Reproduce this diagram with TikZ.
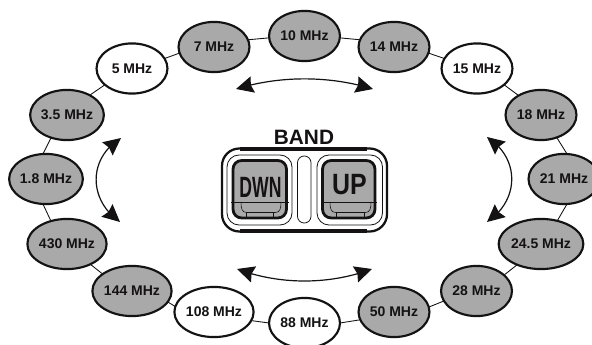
\documentclass[tikz,border=0pt]{standalone}
\usepackage{fontspec}
\setmainfont{Liberation Sans}
\usetikzlibrary{shapes.geometric,arrows.meta,bending}
\definecolor{keygray}{HTML}{A9A9A9}
\definecolor{ink}{HTML}{141212}
\tikzset{
  x=0.75pt,y=-0.75pt,
  bandbase/.style={ellipse,draw=ink,line width=1.6pt,minimum width=53.2pt,minimum height=37.6pt,
    inner sep=0pt,outer sep=0pt,text=ink,font=\bfseries\fontsize{10.5pt}{12pt}\selectfont},
  bandon/.style={bandbase,fill=keygray},
  bandoff/.style={bandbase,fill=white},
  link/.style={draw=ink,line width=0.65pt},
  swing/.style={draw=ink,line width=0.9pt,
    {Stealth[length=13pt,width=12.5pt,inset=1.5pt]}-{Stealth[length=13pt,width=12.5pt,inset=1.5pt]}},
  keyface/.style={draw=ink,fill=keygray,line width=2.1pt,rounded corners=6.5pt},
  thinring/.style={draw=ink,line width=0.6pt,rounded corners=9pt},
  keydetail/.style={draw=ink,line width=0.45pt},
}
\begin{document}
\begin{tikzpicture}
\useasboundingbox (0,0) rectangle (592,345);
\clip (0,0) rectangle (592,345);
% band nodes
\node[bandon]  (m10)  at (304.5,36)  {10 MHz};
\node[bandon]  (m14)  at (394,47)    {14 MHz};
\node[bandoff] (m15)  at (477,68.5)  {15 MHz};
\node[bandon]  (m18)  at (541,115)   {18 MHz};
\node[bandon]  (m21)  at (564,179)   {21 MHz};
\node[bandon]  (m245) at (541,244)   {24.5 MHz};
\node[bandon]  (m28)  at (476.5,291) {28 MHz};
\node[bandon]  (m50)  at (394,312)   {50 MHz};
\node[bandoff] (m88)  at (304.5,323) {88 MHz};
\node[bandoff] (m108) at (214,312)   {108 MHz};
\node[bandon]  (m144) at (132,291)   {144 MHz};
\node[bandon]  (m430) at (67,244)    {430 MHz};
\node[bandon]  (m18l) at (46,179)    {1.8 MHz};
\node[bandon]  (m35)  at (67,115)    {3.5 MHz};
\node[bandoff] (m5)   at (132,68.5)  {5 MHz};
\node[bandon]  (m7)   at (214,47)    {7 MHz};
% connectors
\draw[link] (m7.12) -- (m10.183);
\draw[link] (m5.17) -- (m7.190);
\draw[link] (m35.41) -- (m5.211);
\draw[link] (m18l.97) -- (m35.235);
\draw[link] (m18l.263) -- (m430.125);
\draw[link] (m430.-41) -- (m144.150);
\draw[link] (m144.-17) -- (m108.172);
\draw[link] (m108.-13) -- (m88.180);
\draw[link] (m88.0) -- (m50.193);
\draw[link] (m50.8) -- (m28.197);
\draw[link] (m28.30) -- (m245.221);
\draw[link] (m245.55) -- (m21.277);
\draw[link] (m21.83) -- (m18.305);
\draw[link] (m18.139) -- (m15.329);
\draw[link] (m15.163) -- (m14.350);
\draw[link] (m14.168) -- (m10.357);
% arrows
\coordinate (topL) at (236,89);   \coordinate (topR) at (373,89);
\coordinate (botL) at (237,269);  \coordinate (botR) at (372,269);
\coordinate (lefT) at (121,138);  \coordinate (lefB) at (120,222);
\coordinate (rigT) at (487,137);  \coordinate (rigB) at (487,222);
\draw[swing] (topL) .. controls (280,75.5) and (329,75.5) .. (topR);
\draw[swing] (botL) .. controls (280,285) and (329,285) .. (botR);
\draw[swing] (lefT) .. controls (88,158) and (88,200) .. (lefB);
\draw[swing] (rigT) .. controls (520,158) and (520,200) .. (rigB);
% band button
\node[font=\bfseries\fontsize{15.6pt}{18pt}\selectfont,text=ink,inner sep=0pt] (bandlabel) at (304,137) {BAND};
\draw[draw=ink,line width=1.7pt,rounded corners=13pt] (222,148.5) rectangle (387,231.5);
\draw[draw=ink,line width=2.8pt] (240,148.8) -- (367,148.8);
\draw[draw=ink,line width=2.8pt] (240,231.2) -- (367,231.2);
\draw[thinring] (227,155) rectangle (292,225);
\draw[thinring] (317,155) rectangle (382.5,225);
\draw[draw=ink,line width=0.6pt,rounded corners=5pt] (297.5,156) rectangle (311,223);
% DWN key
\draw[keyface] (233,160.5) rectangle (286.5,218);
\draw[keydetail] (231,202) -- (289,202);
\draw[keydetail] (241,202) .. controls (241,209) and (242,212.5) .. (247,212.5) -- (275,212.5) .. controls (280,212.5) and (281,209) .. (281,202);
\draw[keydetail] (246.5,212.5) -- (246.5,217);
\draw[keydetail] (273.5,212.5) -- (273.5,217);
\node[inner sep=0pt,text=ink,font=\bfseries\fontsize{22pt}{24pt}\selectfont] (dwnlabel) at (260.5,187) {\scalebox{0.6}[1]{DWN}};
% UP key
\draw[keyface] (322.5,160.5) rectangle (375,218);
\draw[keydetail] (321,202) -- (377,202);
\draw[keydetail] (330,202) .. controls (330,209) and (331,212.5) .. (336,212.5) -- (365,212.5) .. controls (370,212.5) and (371,209) .. (371,202);
\draw[keydetail] (336,212.5) -- (336,217);
\draw[keydetail] (364,212.5) -- (364,217);
\node[inner sep=0pt,text=ink,font=\bfseries\fontsize{22pt}{24pt}\selectfont] (uplabel) at (349.5,185) {\scalebox{0.85}[1]{UP}};
\end{tikzpicture}
\end{document}
